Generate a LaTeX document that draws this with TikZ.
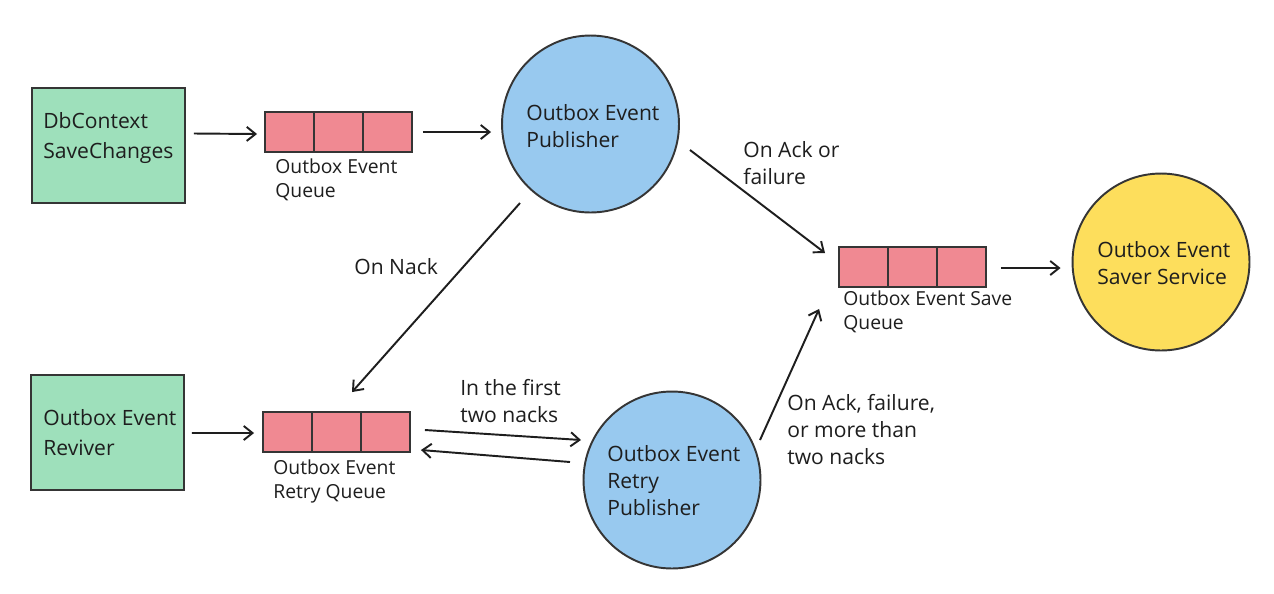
\documentclass[tikz,border=0pt]{standalone}
\usepackage{fontspec}
\setmainfont{Open Sans}
\usetikzlibrary{arrows.meta,calc}
\definecolor{gfill}{RGB}{158,224,187}
\definecolor{pfill}{RGB}{240,137,146}
\definecolor{bfill}{RGB}{152,201,239}
\definecolor{yfill}{RGB}{253,222,92}
\definecolor{ink}{RGB}{30,30,30}
\newcommand\qcells[1]{%
  \draw[qline] ($(#1.north west)!1/3!(#1.north east)$) -- ($(#1.south west)!1/3!(#1.south east)$);
  \draw[qline] ($(#1.north west)!2/3!(#1.north east)$) -- ($(#1.south west)!2/3!(#1.south east)$);}
\begin{document}
\begin{tikzpicture}[x=0.02cm,y=-0.02cm,
  greenbox/.style={draw=ink!90, line width=1.1pt, fill=gfill, minimum width=3.06cm, minimum height=2.3cm, inner sep=0},
  queuebox/.style={draw=ink!90, line width=1.1pt, fill=pfill, minimum width=2.94cm, minimum height=0.8cm, inner sep=0},
  qline/.style={draw=ink!90, line width=1.1pt},
  circ/.style={circle, draw=ink!90, line width=1.1pt, minimum size=3.54cm, inner sep=0},
  txt/.style={anchor=north west, inner sep=0, align=left, text=ink, font=\fontsize{12}{15.3}\selectfont},
  boxtxt/.style={txt, font=\fontsize{12}{17}\selectfont},
  qtxt/.style={txt, font=\fontsize{11}{14.2}\selectfont},
  arr/.style={draw=ink, line width=1.1pt, -{Straight Barb[length=5pt,width=8pt,line width=1.1pt]}}]
\useasboundingbox[fill=white] (0,0) rectangle (1274,593);

% shapes
\node[greenbox] (db) at (108.5,145.5) {};
\node[greenbox] (rev) at (107.5,432.5) {};
\node[queuebox] (q1) at (338.5,132) {};
\node[queuebox] (sq) at (912.5,267) {};
\node[queuebox] (rq) at (336.5,432) {};
\qcells{q1}\qcells{sq}\qcells{rq}
\node[circ, fill=bfill] (pub) at (590.5,124) {};
\node[circ, fill=yfill] (saver) at (1161,262) {};
\node[circ, fill=bfill] (rp) at (672,480) {};

% texts
\node[boxtxt] (tdb) at (43,112) {DbContext\\SaveChanges};
\node[boxtxt] (trev) at (43,409) {Outbox Event\\Reviver};
\node[txt] (tpub) at (526,104) {Outbox Event\\Publisher};
\node[txt] (tsaver) at (1097,241) {Outbox Event\\Saver Service};
\node[txt] (trp) at (607,445) {Outbox Event\\Retry\\Publisher};
\node[qtxt] (tq1) at (275,158) {Outbox Event\\Queue};
\node[qtxt] (tsq) at (843,290) {Outbox Event Save\\Queue};
\node[qtxt] (trq) at (273,459) {Outbox Event\\Retry Queue};
\node[txt] (lack) at (743,141) {On Ack or\\failure};
\node[txt] (lnack) at (354,258) {On Nack};
\node[txt] (lfirst) at (460,379) {In the first\\two nacks};
\node[txt] (lmore) at (787,394) {On Ack, failure,\\or more than\\two nacks};

% connectors
\draw[arr] ($(db.east)+(8,-12)$) -- ($(q1.west)+(-7,2)$);
\draw[arr] ($(q1.east)+(10,0)$) -- ($(pub.west)+(-10,8)$);
\draw[arr] ($(pub.center)+(99.5,26)$) -- ($(sq.west)+(-13,-14)$);
\draw[arr] ($(sq.east)+(14,1)$) -- ($(saver.west)+(-11,6)$);
\draw[arr] ($(pub.center)+(-70.5,79)$) -- ($(rq.north)+(15.5,-19)$);
\draw[arr] ($(rev.east)+(7,0.5)$) -- ($(rq.west)+(-8,1)$);
\draw[arr] ($(rq.east)+(14,-2)$) -- ($(rp.center)+(-91,-40)$);
\draw[arr] ($(rp.center)+(-102,-18)$) -- ($(rq.east)+(10,18)$);
\draw[arr] ($(rp.center)+(88,-40)$) -- ($(sq.south west)+(-19,21)$);
\end{tikzpicture}
\end{document}
